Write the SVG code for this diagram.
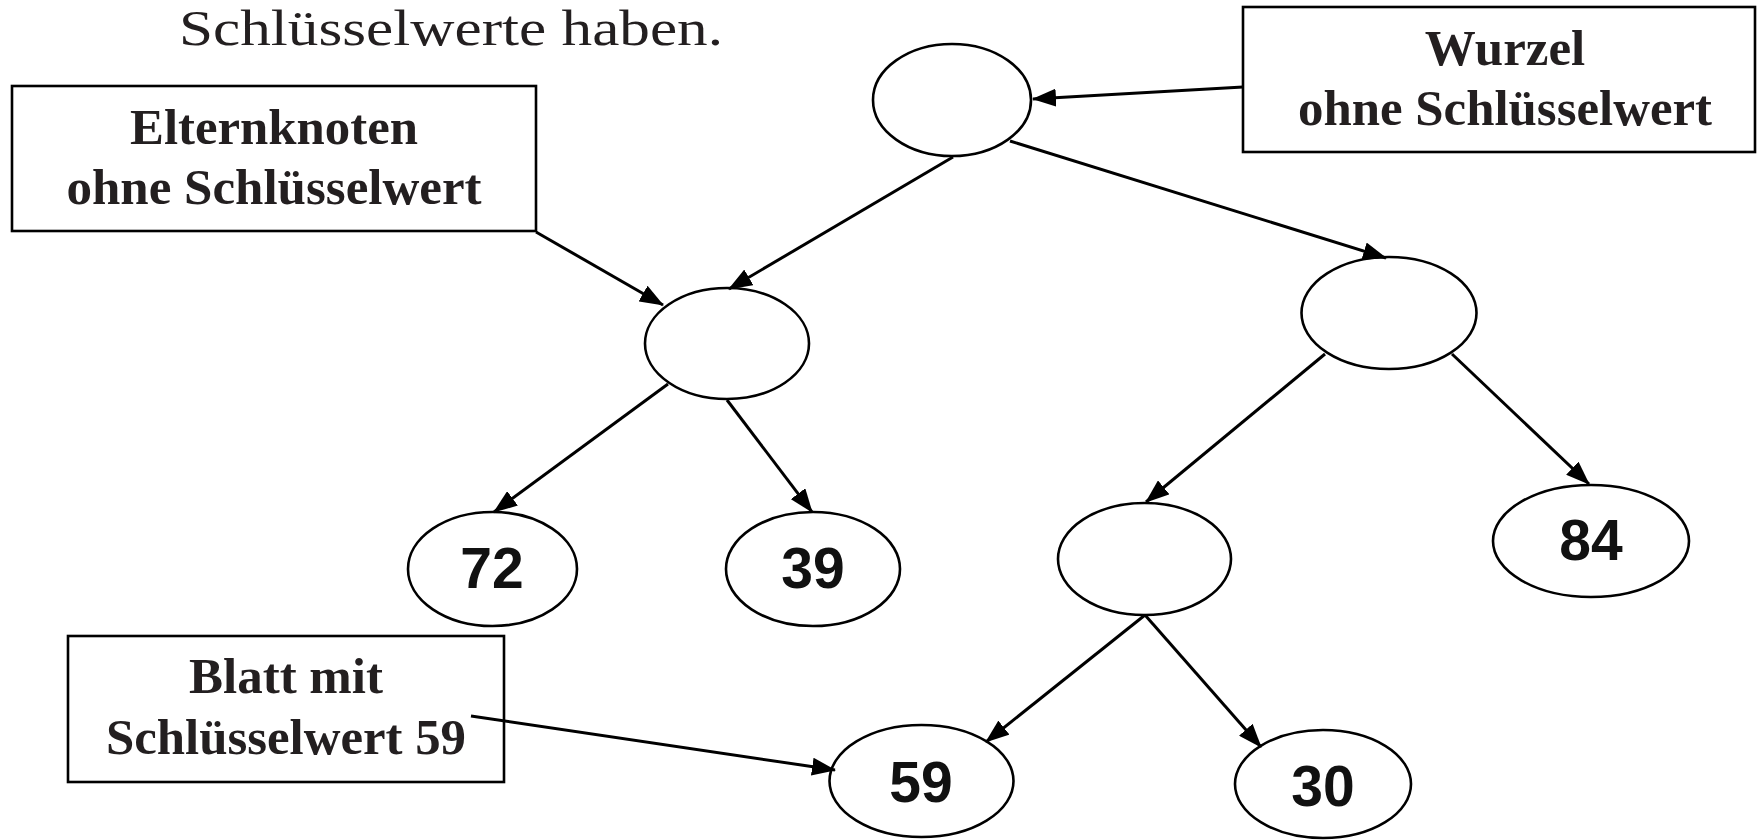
<svg xmlns="http://www.w3.org/2000/svg" width="1757" height="840" viewBox="0 0 1757 840">
  <style>
    .node { fill: #ffffff; stroke: #000000; stroke-width: 2.6; }
    .box { fill: #ffffff; stroke: #000000; stroke-width: 2.6; }
    .edge { stroke: #000000; stroke-width: 3; fill: none; marker-end: url(#arrow); }
    .label { font-family: "Liberation Serif", "Times New Roman", serif; font-weight: bold; font-size: 51px; fill: #231f20; text-anchor: middle; }
    .key { font-family: "Liberation Sans", Arial, sans-serif; font-weight: bold; font-size: 57px; fill: #111111; text-anchor: middle; }
    .heading { font-family: "Liberation Serif", "Times New Roman", serif; font-size: 50px; fill: #231f20; }
  </style>
  <defs>
    <marker id="arrow" markerUnits="userSpaceOnUse" markerWidth="24" markerHeight="18" viewBox="0 0 24 18" refX="23" refY="9" orient="auto">
      <path d="M0,0 L24,9 L0,18 z" fill="#000000"/>
    </marker>
  </defs>

  <rect width="1757" height="840" fill="#ffffff"/>

  <!-- heading fragment -->
  <text class="heading" x="179" y="45" textLength="544" lengthAdjust="spacingAndGlyphs">Schlüsselwerte haben.</text>

  <!-- tree nodes -->
  <g id="root">
    <ellipse class="node" cx="952" cy="100" rx="79" ry="56"/>
  </g>
  <g id="inner-left">
    <ellipse class="node" cx="727" cy="343.5" rx="82" ry="55.5"/>
  </g>
  <g id="inner-right">
    <ellipse class="node" cx="1389" cy="313" rx="87.5" ry="56"/>
  </g>
  <g id="inner-bottom">
    <ellipse class="node" cx="1144.5" cy="559" rx="86.5" ry="56"/>
  </g>
  <g id="leaf-72">
    <ellipse class="node" cx="492.5" cy="569" rx="84.5" ry="57"/>
    <text class="key" x="492" y="588">72</text>
  </g>
  <g id="leaf-39">
    <ellipse class="node" cx="813" cy="569" rx="87" ry="57"/>
    <text class="key" x="813" y="588">39</text>
  </g>
  <g id="leaf-84">
    <ellipse class="node" cx="1591" cy="541" rx="98" ry="56"/>
    <text class="key" x="1591" y="560">84</text>
  </g>
  <g id="leaf-59">
    <ellipse class="node" cx="921.5" cy="781" rx="92" ry="56"/>
    <text class="key" x="921" y="802">59</text>
  </g>
  <g id="leaf-30">
    <ellipse class="node" cx="1323" cy="784" rx="88" ry="54"/>
    <text class="key" x="1323" y="806">30</text>
  </g>

  <!-- annotation boxes -->
  <g id="note-root">
    <rect class="box" x="1243" y="7" width="512" height="145"/>
    <text class="label" x="1505" y="65">Wurzel</text>
    <text class="label" x="1505" y="125" textLength="414" lengthAdjust="spacingAndGlyphs">ohne Schlüsselwert</text>
  </g>
  <g id="note-parent">
    <rect class="box" x="12" y="86" width="524" height="145"/>
    <text class="label" x="274" y="144" textLength="288" lengthAdjust="spacingAndGlyphs">Elternknoten</text>
    <text class="label" x="274" y="204" textLength="415" lengthAdjust="spacingAndGlyphs">ohne Schlüsselwert</text>
  </g>
  <g id="note-leaf">
    <rect class="box" x="68" y="636" width="436" height="146"/>
    <text class="label" x="286" y="693">Blatt mit</text>
    <text class="label" x="286" y="754" textLength="360" lengthAdjust="spacingAndGlyphs">Schlüsselwert 59</text>
  </g>

  <!-- connectors (drawn last so the leaf pointer shows inside its box) -->
  <g id="connectors">
    <line class="edge" x1="1243" y1="87" x2="1033" y2="99"/>
    <line class="edge" x1="953" y1="157" x2="729" y2="289"/>
    <line class="edge" x1="1010" y1="141" x2="1386" y2="258"/>
    <line class="edge" x1="536" y1="232" x2="663" y2="305"/>
    <line class="edge" x1="668" y1="384" x2="494" y2="512"/>
    <line class="edge" x1="727" y1="400" x2="812" y2="512"/>
    <line class="edge" x1="1325" y1="354" x2="1146" y2="502"/>
    <line class="edge" x1="1452" y1="354" x2="1589" y2="484"/>
    <line class="edge" x1="1145" y1="615" x2="986" y2="742"/>
    <line class="edge" x1="1145" y1="615" x2="1261" y2="747"/>
    <line class="edge" x1="471" y1="716" x2="835" y2="770"/>
  </g>
</svg>
